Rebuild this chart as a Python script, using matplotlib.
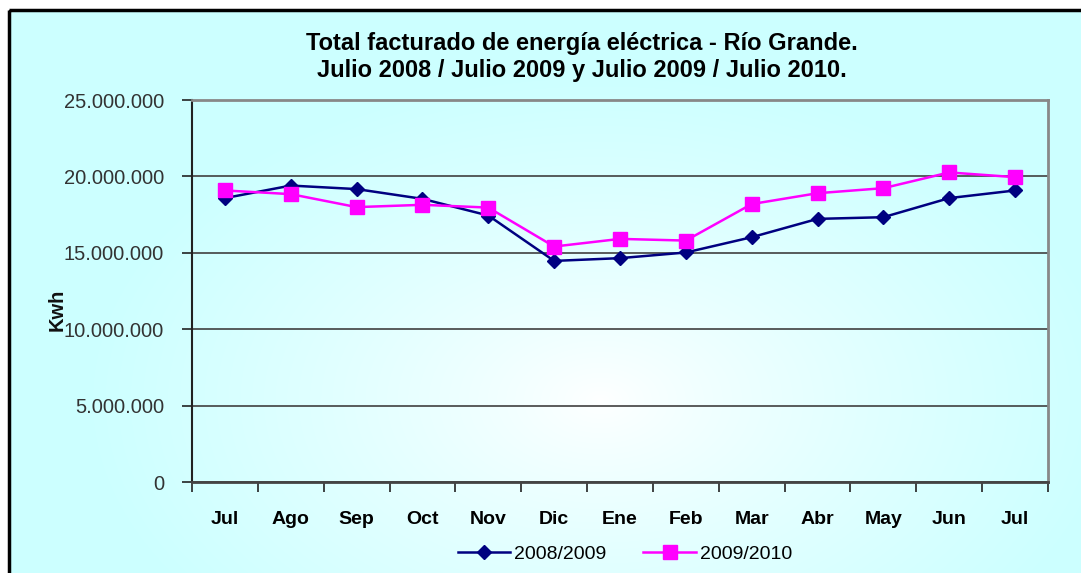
import matplotlib
matplotlib.use("Agg")
import matplotlib.pyplot as plt
import numpy as np
from matplotlib.patches import Rectangle
from matplotlib.ticker import FuncFormatter, FixedLocator

meses = ["Jul", "Ago", "Sep", "Oct", "Nov", "Dic", "Ene", "Feb", "Mar", "Abr", "May", "Jun", "Jul"]
serie_0809 = [18.58, 19.40, 19.17, 18.53, 17.44, 14.47, 14.65, 15.02, 16.02, 17.22, 17.33, 18.58, 19.08]
serie_0910 = [19.08, 18.84, 17.99, 18.14, 17.96, 15.41, 15.91, 15.80, 18.19, 18.90, 19.23, 20.26, 19.95]
serie_0809 = [v * 1e6 for v in serie_0809]
serie_0910 = [v * 1e6 for v in serie_0910]

plt.rcParams['font.family'] = ['Liberation Sans', 'DejaVu Sans']

W, H = 1081, 573
fig = plt.figure(figsize=(W / 100, H / 100), dpi=100)
fig.patch.set_facecolor("white")

# background gradient (white centre fading to light cyan)
bg = fig.add_axes([0, 0, 1, 1], zorder=0)
yy, xx = np.mgrid[0:H, 0:W]
r = np.sqrt(((xx - 600) / 520.0) ** 2 + ((yy - 400) / 330.0) ** 2)
t = np.clip(r, 0, 1) ** 0.8
img = np.zeros((H, W, 3))
img[..., 0] = 1.0 - t * (1 - 0.80)
img[..., 1] = 1.0
img[..., 2] = 1.0
img[:10, :] = 1.0
img[:, :9] = 1.0
bg.imshow(img, aspect="auto", extent=(0, W, H, 0))
bg.set_xlim(0, W)
bg.set_ylim(H, 0)
bg.axis("off")
bg.add_patch(Rectangle((9, 10), W + 5, H + 5, fill=False, edgecolor="black", lw=2.5))

ax = fig.add_axes([192 / W, (H - 482) / H, (1048 - 192) / W, 382 / H], zorder=1)
ax.set_facecolor("none")

x = np.arange(len(meses))
ax.plot(x, serie_0809, color="#000080", lw=1.8, marker="D", markersize=7.5,
        label="2008/2009", zorder=3)
ax.plot(x, serie_0910, color="#FF00FF", lw=1.8, marker="s", markersize=10.5,
        label="2009/2010", zorder=4)

ax.set_xlim(-0.5, len(meses) - 0.5)
ax.set_ylim(0, 25e6)
ax.set_yticks(np.arange(0, 25e6 + 1, 5e6))
ax.yaxis.set_major_formatter(FuncFormatter(lambda v, p: f"{int(v):,}".replace(",", ".")))
ax.grid(axis="y", color="#404040", lw=1.2)
ax.set_axisbelow(True)

ax.set_xticks(x)
ax.set_xticklabels(meses, fontweight="bold", fontsize=14)
ax.xaxis.set_minor_locator(FixedLocator(np.arange(-0.5, len(meses), 1)))
ax.tick_params(axis="x", which="major", length=0, pad=21)
ax.tick_params(axis="x", which="minor", length=7, width=1.2, color="#222222")
ax.tick_params(axis="y", length=7, width=1.2, color="#222222", labelsize=14.5,
               labelcolor="#333333", pad=13)

for s in ["top", "right"]:
    ax.spines[s].set_color("#888888")
    ax.spines[s].set_linewidth(2)
ax.spines["left"].set_color("#222222")
ax.spines["left"].set_linewidth(1.5)
ax.spines["bottom"].set_color("#444444")
ax.spines["bottom"].set_linewidth(2)

fig.text(57 / W, 1 - 310 / H, "Kwh", rotation=90, fontsize=14.5, ha="center",
         va="center", color="#111111", fontweight="bold")

fig.text(582 / W, 1 - 57 / H,
         "Total facturado de energía eléctrica - Río Grande.\n"
         "Julio 2008 / Julio 2009 y Julio 2009 / Julio 2010.",
         ha="center", va="center", fontsize=17, fontweight="bold",
         linespacing=1.2)

fig.legend(loc="center", bbox_to_anchor=(625 / W, 1 - 554 / H), ncol=2, frameon=False,
           fontsize=14, handlelength=2.7, columnspacing=1.9, handletextpad=0.2)

fig.savefig("out.png", dpi=100)
